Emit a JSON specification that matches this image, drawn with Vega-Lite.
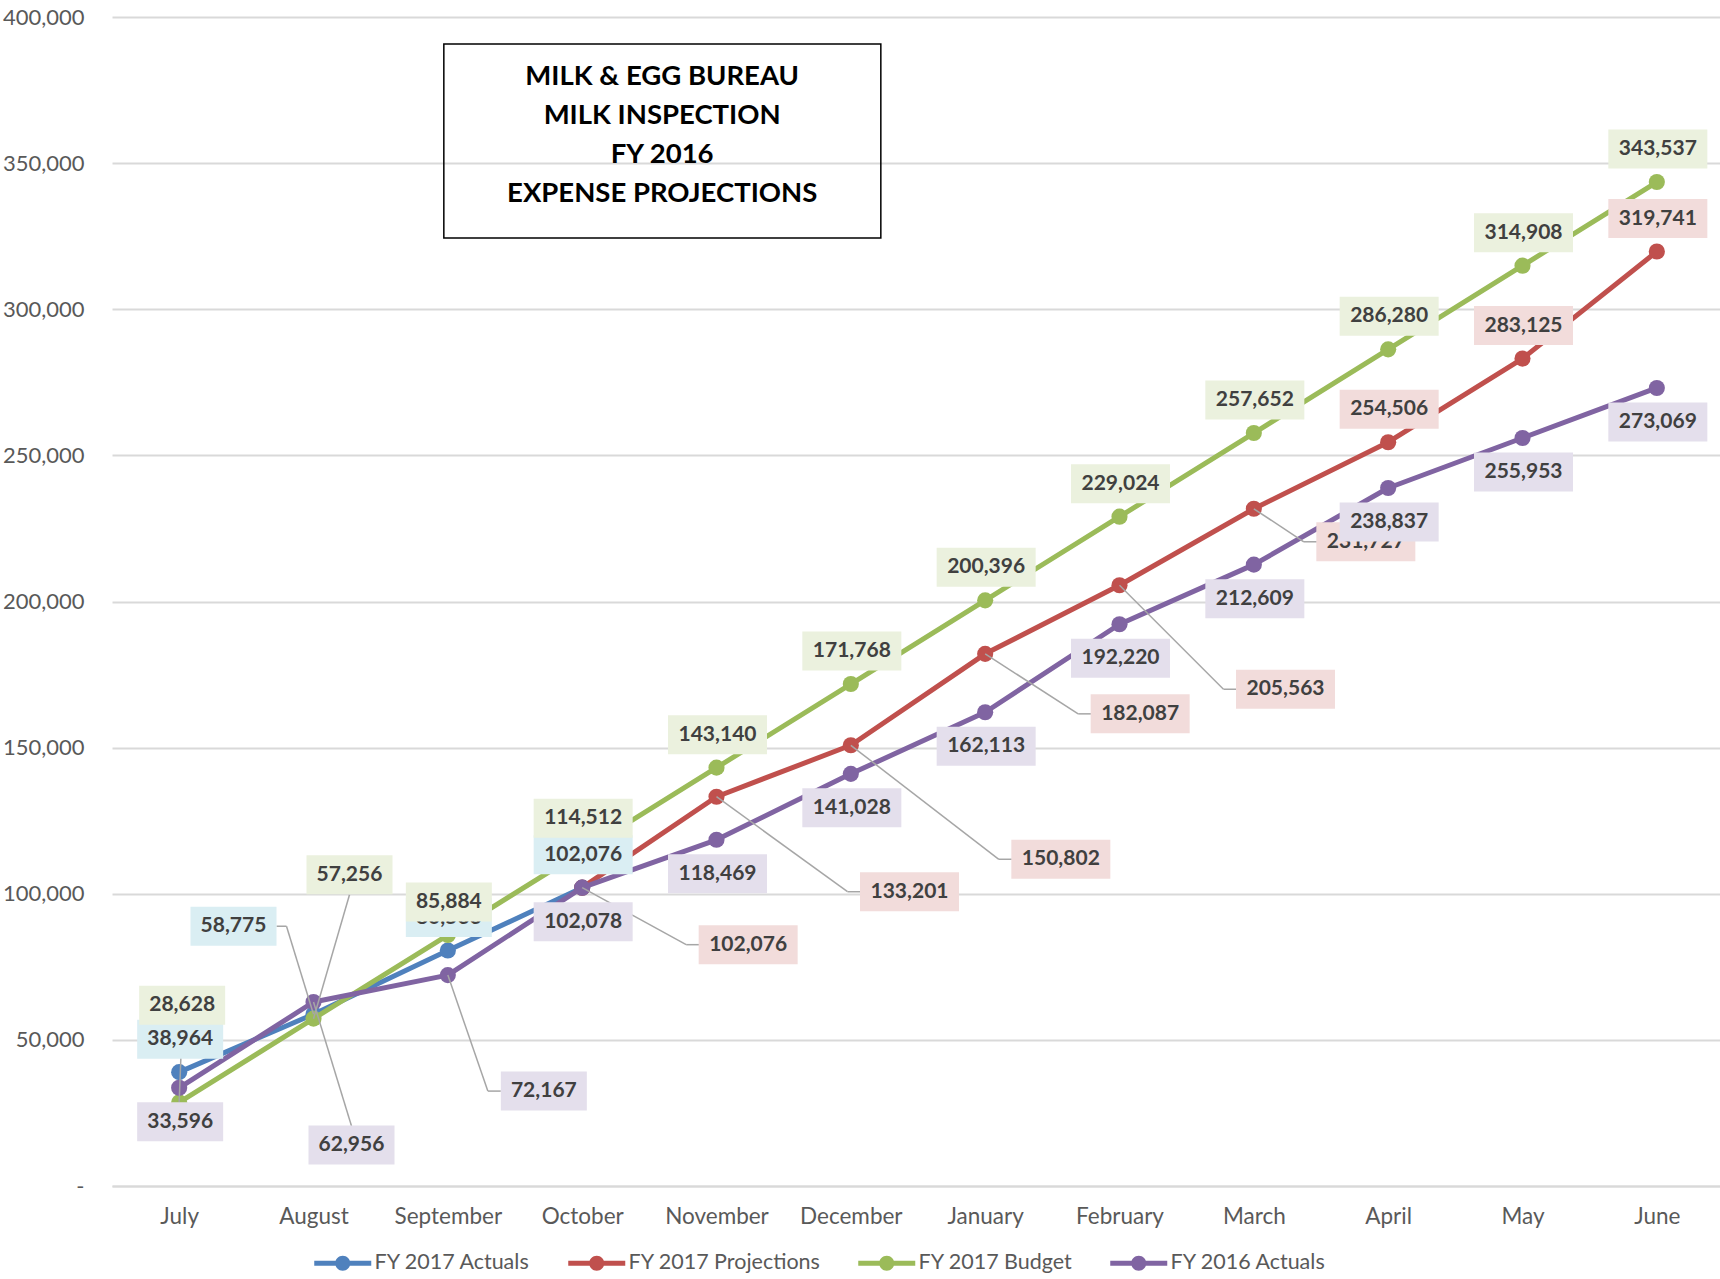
{
  "$schema": "https://vega.github.io/schema/vega-lite/v6.json",
  "width": 1612,
  "height": 1169,
  "autosize": {"type": "none"},
  "padding": {"left": 112, "top": 17, "right": 0, "bottom": 93},
  "background": "white",
  "config": {"font": "Lato", "view": {"stroke": null}},
  "data": {"values": [
    {"s": "FY 2017 Actuals", "m": "July", "v": 38964},
    {"s": "FY 2017 Actuals", "m": "August", "v": 58775},
    {"s": "FY 2017 Actuals", "m": "September", "v": 80566},
    {"s": "FY 2017 Actuals", "m": "October", "v": 102076},
    {"s": "FY 2017 Projections", "m": "October", "v": 102076},
    {"s": "FY 2017 Projections", "m": "November", "v": 133201},
    {"s": "FY 2017 Projections", "m": "December", "v": 150802},
    {"s": "FY 2017 Projections", "m": "January", "v": 182087},
    {"s": "FY 2017 Projections", "m": "February", "v": 205563},
    {"s": "FY 2017 Projections", "m": "March", "v": 231727},
    {"s": "FY 2017 Projections", "m": "April", "v": 254506},
    {"s": "FY 2017 Projections", "m": "May", "v": 283125},
    {"s": "FY 2017 Projections", "m": "June", "v": 319741},
    {"s": "FY 2017 Budget", "m": "July", "v": 28628},
    {"s": "FY 2017 Budget", "m": "August", "v": 57256},
    {"s": "FY 2017 Budget", "m": "September", "v": 85884},
    {"s": "FY 2017 Budget", "m": "October", "v": 114512},
    {"s": "FY 2017 Budget", "m": "November", "v": 143140},
    {"s": "FY 2017 Budget", "m": "December", "v": 171768},
    {"s": "FY 2017 Budget", "m": "January", "v": 200396},
    {"s": "FY 2017 Budget", "m": "February", "v": 229024},
    {"s": "FY 2017 Budget", "m": "March", "v": 257652},
    {"s": "FY 2017 Budget", "m": "April", "v": 286280},
    {"s": "FY 2017 Budget", "m": "May", "v": 314908},
    {"s": "FY 2017 Budget", "m": "June", "v": 343537},
    {"s": "FY 2016 Actuals", "m": "July", "v": 33596},
    {"s": "FY 2016 Actuals", "m": "August", "v": 62956},
    {"s": "FY 2016 Actuals", "m": "September", "v": 72167},
    {"s": "FY 2016 Actuals", "m": "October", "v": 102078},
    {"s": "FY 2016 Actuals", "m": "November", "v": 118469},
    {"s": "FY 2016 Actuals", "m": "December", "v": 141028},
    {"s": "FY 2016 Actuals", "m": "January", "v": 162113},
    {"s": "FY 2016 Actuals", "m": "February", "v": 192220},
    {"s": "FY 2016 Actuals", "m": "March", "v": 212609},
    {"s": "FY 2016 Actuals", "m": "April", "v": 238837},
    {"s": "FY 2016 Actuals", "m": "May", "v": 255953},
    {"s": "FY 2016 Actuals", "m": "June", "v": 273069}
  ]},
  "encoding": {
    "x": {
      "field": "m", "type": "ordinal",
      "scale": {"type": "point", "padding": 0.5, "domain": ["July","August","September","October","November","December","January","February","March","April","May","June"]},
      "axis": {"title": null, "labelAngle": 0, "labelFont": "Lato", "labelFontSize": 22.5, "labelColor": "#595959", "labelPadding": 19, "ticks": false, "domain": true, "domainColor": "#D9D9D9", "domainWidth": 2, "grid": false}
    },
    "y": {
      "field": "v", "type": "quantitative",
      "scale": {"domain": [0, 400000], "nice": false},
      "axis": {"title": null, "values": [0,50000,100000,150000,200000,250000,300000,350000,400000], "labelExpr": "datum.value == 0 ? '-' : format(datum.value, ',')", "labelFont": "Lato", "labelFontSize": 22, "labelColor": "#595959", "labelPadding": 28, "ticks": false, "domain": false, "grid": true, "gridColor": "#D9D9D9", "gridWidth": 2}
    }
  },
  "layer": [
    {
      "transform": [{"filter": "datum.s == 'FY 2017 Actuals'"}],
      "layer": [
        {"mark": {"type": "line", "strokeWidth": 5, "strokeJoin": "round", "strokeCap": "round", "color": "#4F81BD"},
         "encoding": {"order": {"value": null}}},
        {"mark": {"type": "point", "filled": true, "size": 260, "opacity": 1},
         "encoding": {"color": {"field": "s", "type": "nominal", "scale": {"domain": ["FY 2017 Actuals","FY 2017 Projections","FY 2017 Budget","FY 2016 Actuals"], "range": ["#4F81BD","#C0504D","#9BBB59","#8064A2"]},
           "legend": {"title": null, "orient": "none", "legendX": 220, "legendY": 1235, "direction": "horizontal", "columns": 4, "padding": 0, "symbolType": "M-2.85,-0.25H2.85V0.25H-2.85Z M-0.75,0A0.75,0.75 0 1,1 0.75,0A0.75,0.75 0 1,1 -0.75,0Z", "symbolSize": 400, "symbolStrokeWidth": 0, "symbolOpacity": 1, "labelFont": "Lato", "labelFontSize": 21.5, "labelColor": "#595959", "labelOffset": 21, "labelLimit": 400, "columnPadding": 37}}}}
      ]
    },
    {
      "transform": [{"filter": "datum.s == 'FY 2017 Projections'"}],
      "layer": [
        {"mark": {"type": "line", "strokeWidth": 5, "strokeJoin": "round", "strokeCap": "round", "color": "#C0504D"},
         "encoding": {"order": {"value": null}}},
        {"mark": {"type": "point", "filled": true, "size": 260, "opacity": 1},
         "encoding": {"color": {"field": "s", "type": "nominal"}}}
      ]
    },
    {
      "transform": [{"filter": "datum.s == 'FY 2017 Budget'"}],
      "layer": [
        {"mark": {"type": "line", "strokeWidth": 5, "strokeJoin": "round", "strokeCap": "round", "color": "#9BBB59"},
         "encoding": {"order": {"value": null}}},
        {"mark": {"type": "point", "filled": true, "size": 260, "opacity": 1},
         "encoding": {"color": {"field": "s", "type": "nominal"}}}
      ]
    },
    {
      "transform": [{"filter": "datum.s == 'FY 2016 Actuals'"}],
      "layer": [
        {"mark": {"type": "line", "strokeWidth": 5, "strokeJoin": "round", "strokeCap": "round", "color": "#8064A2"},
         "encoding": {"order": {"value": null}}},
        {"mark": {"type": "point", "filled": true, "size": 260, "opacity": 1},
         "encoding": {"color": {"field": "s", "type": "nominal"}}}
      ]
    },
    {
      "transform": [{"filter": "indexof(['FY 2017 BudgetJuly','FY 2017 BudgetAugust','FY 2017 ActualsAugust','FY 2016 ActualsAugust','FY 2016 ActualsSeptember','FY 2017 ProjectionsOctober','FY 2017 ProjectionsNovember','FY 2017 ProjectionsDecember','FY 2017 ProjectionsJanuary','FY 2017 ProjectionsFebruary','FY 2017 ProjectionsMarch'], datum.s + datum.m) >= 0"}],
      "mark": {"type": "rule", "color": "#A6A6A6", "strokeWidth": 1.5,
        "x2Offset": {"expr": "({'FY 2017 BudgetJuly':3,'FY 2017 BudgetAugust':36,'FY 2017 ActualsAugust':-27,'FY 2016 ActualsAugust':38,'FY 2016 ActualsSeptember':40,'FY 2017 ProjectionsOctober':104,'FY 2017 ProjectionsNovember':131,'FY 2017 ProjectionsDecember':148,'FY 2017 ProjectionsJanuary':93,'FY 2017 ProjectionsFebruary':104,'FY 2017 ProjectionsMarch':50})[datum.s + datum.m]"},
        "y2Offset": {"expr": "({'FY 2017 BudgetJuly':-78,'FY 2017 BudgetAugust':-124,'FY 2017 ActualsAugust':-88,'FY 2016 ActualsAugust':124,'FY 2016 ActualsSeptember':116,'FY 2017 ProjectionsOctober':57,'FY 2017 ProjectionsNovember':95,'FY 2017 ProjectionsDecember':114,'FY 2017 ProjectionsJanuary':60,'FY 2017 ProjectionsFebruary':104,'FY 2017 ProjectionsMarch':33})[datum.s + datum.m]"}},
      "encoding": {"x2": {"field": "m"}, "y2": {"field": "v"}}
    },
    {
      "transform": [{"filter": "indexof(['FY 2017 ActualsAugust','FY 2016 ActualsSeptember','FY 2017 ProjectionsOctober','FY 2017 ProjectionsNovember','FY 2017 ProjectionsDecember','FY 2017 ProjectionsJanuary','FY 2017 ProjectionsFebruary','FY 2017 ProjectionsMarch'], datum.s + datum.m) >= 0"}],
      "mark": {"type": "rule", "color": "#A6A6A6", "strokeWidth": 1.5,
        "xOffset": {"expr": "({'FY 2017 ActualsAugust':-27,'FY 2016 ActualsSeptember':40,'FY 2017 ProjectionsOctober':104,'FY 2017 ProjectionsNovember':131,'FY 2017 ProjectionsDecember':148,'FY 2017 ProjectionsJanuary':93,'FY 2017 ProjectionsFebruary':104,'FY 2017 ProjectionsMarch':50})[datum.s + datum.m]"},
        "x2Offset": {"expr": "({'FY 2017 ActualsAugust':-37,'FY 2016 ActualsSeptember':53,'FY 2017 ProjectionsOctober':117,'FY 2017 ProjectionsNovember':144,'FY 2017 ProjectionsDecember':161,'FY 2017 ProjectionsJanuary':106,'FY 2017 ProjectionsFebruary':117,'FY 2017 ProjectionsMarch':63})[datum.s + datum.m]"},
        "yOffset": {"expr": "({'FY 2017 ActualsAugust':-88,'FY 2016 ActualsSeptember':116,'FY 2017 ProjectionsOctober':57,'FY 2017 ProjectionsNovember':95,'FY 2017 ProjectionsDecember':114,'FY 2017 ProjectionsJanuary':60,'FY 2017 ProjectionsFebruary':104,'FY 2017 ProjectionsMarch':33})[datum.s + datum.m]"},
        "y2Offset": {"expr": "({'FY 2017 ActualsAugust':-88,'FY 2016 ActualsSeptember':116,'FY 2017 ProjectionsOctober':57,'FY 2017 ProjectionsNovember':95,'FY 2017 ProjectionsDecember':114,'FY 2017 ProjectionsJanuary':60,'FY 2017 ProjectionsFebruary':104,'FY 2017 ProjectionsMarch':33})[datum.s + datum.m]"}},
      "encoding": {"x2": {"field": "m"}, "y2": {"field": "v"}}
    },
    {
      "transform": [{"filter": "datum.s == 'FY 2017 Actuals'"}],
      "layer": [
        {"mark": {"type": "point", "filled": true, "opacity": 1, "size": 400, "color": "#DAEEF3", "strokeWidth": 0,
          "xOffset": {"expr": "({'FY 2017 BudgetJuly':3,'FY 2017 BudgetAugust':36,'FY 2017 ActualsAugust':-80,'FY 2016 ActualsAugust':38,'FY 2016 ActualsSeptember':96,'FY 2017 ProjectionsOctober':166,'FY 2017 ProjectionsNovember':193,'FY 2017 ProjectionsDecember':210,'FY 2017 ProjectionsJanuary':155,'FY 2017 ProjectionsFebruary':166,'FY 2017 ProjectionsMarch':112})[datum.s + datum.m] || 1"},
          "yOffset": {"expr": "({'FY 2017 BudgetJuly':-97,'FY 2017 BudgetAugust':-144,'FY 2017 ActualsAugust':-88,'FY 2016 ActualsAugust':143,'FY 2016 ActualsSeptember':116,'FY 2017 ProjectionsOctober':57,'FY 2017 ProjectionsNovember':95,'FY 2017 ProjectionsDecember':114,'FY 2017 ProjectionsJanuary':60,'FY 2017 ProjectionsFebruary':104,'FY 2017 ProjectionsMarch':33})[datum.s + datum.m] || (datum.s == 'FY 2016 Actuals' ? 34 : -33)"}},
         "encoding": {"shape": {"condition": {"test": "datum.v >= 100000", "value": "M-4.95,-1.95H4.95V1.95H-4.95Z"}, "value": "M-4.3,-1.95H4.3V1.95H-4.3Z"}}},
        {"mark": {"type": "text", "font": "Lato", "fontWeight": "bold", "fontSize": 21, "color": "#404040", "align": "center", "baseline": "middle",
          "xOffset": {"expr": "({'FY 2017 BudgetJuly':3,'FY 2017 BudgetAugust':36,'FY 2017 ActualsAugust':-80,'FY 2016 ActualsAugust':38,'FY 2016 ActualsSeptember':96,'FY 2017 ProjectionsOctober':166,'FY 2017 ProjectionsNovember':193,'FY 2017 ProjectionsDecember':210,'FY 2017 ProjectionsJanuary':155,'FY 2017 ProjectionsFebruary':166,'FY 2017 ProjectionsMarch':112})[datum.s + datum.m] || 1"},
          "yOffset": {"expr": "({'FY 2017 BudgetJuly':-97,'FY 2017 BudgetAugust':-144,'FY 2017 ActualsAugust':-88,'FY 2016 ActualsAugust':143,'FY 2016 ActualsSeptember':116,'FY 2017 ProjectionsOctober':57,'FY 2017 ProjectionsNovember':95,'FY 2017 ProjectionsDecember':114,'FY 2017 ProjectionsJanuary':60,'FY 2017 ProjectionsFebruary':104,'FY 2017 ProjectionsMarch':33})[datum.s + datum.m] || (datum.s == 'FY 2016 Actuals' ? 34 : -33)"}},
         "encoding": {"text": {"field": "v", "type": "quantitative", "format": ","}}}
      ]
    },
    {
      "transform": [{"filter": "datum.s == 'FY 2017 Projections'"}],
      "layer": [
        {"mark": {"type": "point", "filled": true, "opacity": 1, "size": 400, "color": "#F2DCDB", "strokeWidth": 0,
          "xOffset": {"expr": "({'FY 2017 BudgetJuly':3,'FY 2017 BudgetAugust':36,'FY 2017 ActualsAugust':-80,'FY 2016 ActualsAugust':38,'FY 2016 ActualsSeptember':96,'FY 2017 ProjectionsOctober':166,'FY 2017 ProjectionsNovember':193,'FY 2017 ProjectionsDecember':210,'FY 2017 ProjectionsJanuary':155,'FY 2017 ProjectionsFebruary':166,'FY 2017 ProjectionsMarch':112})[datum.s + datum.m] || 1"},
          "yOffset": {"expr": "({'FY 2017 BudgetJuly':-97,'FY 2017 BudgetAugust':-144,'FY 2017 ActualsAugust':-88,'FY 2016 ActualsAugust':143,'FY 2016 ActualsSeptember':116,'FY 2017 ProjectionsOctober':57,'FY 2017 ProjectionsNovember':95,'FY 2017 ProjectionsDecember':114,'FY 2017 ProjectionsJanuary':60,'FY 2017 ProjectionsFebruary':104,'FY 2017 ProjectionsMarch':33})[datum.s + datum.m] || (datum.s == 'FY 2016 Actuals' ? 34 : -33)"}},
         "encoding": {"shape": {"condition": {"test": "datum.v >= 100000", "value": "M-4.95,-1.95H4.95V1.95H-4.95Z"}, "value": "M-4.3,-1.95H4.3V1.95H-4.3Z"}}},
        {"mark": {"type": "text", "font": "Lato", "fontWeight": "bold", "fontSize": 21, "color": "#404040", "align": "center", "baseline": "middle",
          "xOffset": {"expr": "({'FY 2017 BudgetJuly':3,'FY 2017 BudgetAugust':36,'FY 2017 ActualsAugust':-80,'FY 2016 ActualsAugust':38,'FY 2016 ActualsSeptember':96,'FY 2017 ProjectionsOctober':166,'FY 2017 ProjectionsNovember':193,'FY 2017 ProjectionsDecember':210,'FY 2017 ProjectionsJanuary':155,'FY 2017 ProjectionsFebruary':166,'FY 2017 ProjectionsMarch':112})[datum.s + datum.m] || 1"},
          "yOffset": {"expr": "({'FY 2017 BudgetJuly':-97,'FY 2017 BudgetAugust':-144,'FY 2017 ActualsAugust':-88,'FY 2016 ActualsAugust':143,'FY 2016 ActualsSeptember':116,'FY 2017 ProjectionsOctober':57,'FY 2017 ProjectionsNovember':95,'FY 2017 ProjectionsDecember':114,'FY 2017 ProjectionsJanuary':60,'FY 2017 ProjectionsFebruary':104,'FY 2017 ProjectionsMarch':33})[datum.s + datum.m] || (datum.s == 'FY 2016 Actuals' ? 34 : -33)"}},
         "encoding": {"text": {"field": "v", "type": "quantitative", "format": ","}}}
      ]
    },
    {
      "transform": [{"filter": "datum.s == 'FY 2017 Budget'"}],
      "layer": [
        {"mark": {"type": "point", "filled": true, "opacity": 1, "size": 400, "color": "#EBF1DE", "strokeWidth": 0,
          "xOffset": {"expr": "({'FY 2017 BudgetJuly':3,'FY 2017 BudgetAugust':36,'FY 2017 ActualsAugust':-80,'FY 2016 ActualsAugust':38,'FY 2016 ActualsSeptember':96,'FY 2017 ProjectionsOctober':166,'FY 2017 ProjectionsNovember':193,'FY 2017 ProjectionsDecember':210,'FY 2017 ProjectionsJanuary':155,'FY 2017 ProjectionsFebruary':166,'FY 2017 ProjectionsMarch':112})[datum.s + datum.m] || 1"},
          "yOffset": {"expr": "({'FY 2017 BudgetJuly':-97,'FY 2017 BudgetAugust':-144,'FY 2017 ActualsAugust':-88,'FY 2016 ActualsAugust':143,'FY 2016 ActualsSeptember':116,'FY 2017 ProjectionsOctober':57,'FY 2017 ProjectionsNovember':95,'FY 2017 ProjectionsDecember':114,'FY 2017 ProjectionsJanuary':60,'FY 2017 ProjectionsFebruary':104,'FY 2017 ProjectionsMarch':33})[datum.s + datum.m] || (datum.s == 'FY 2016 Actuals' ? 34 : -33)"}},
         "encoding": {"shape": {"condition": {"test": "datum.v >= 100000", "value": "M-4.95,-1.95H4.95V1.95H-4.95Z"}, "value": "M-4.3,-1.95H4.3V1.95H-4.3Z"}}},
        {"mark": {"type": "text", "font": "Lato", "fontWeight": "bold", "fontSize": 21, "color": "#404040", "align": "center", "baseline": "middle",
          "xOffset": {"expr": "({'FY 2017 BudgetJuly':3,'FY 2017 BudgetAugust':36,'FY 2017 ActualsAugust':-80,'FY 2016 ActualsAugust':38,'FY 2016 ActualsSeptember':96,'FY 2017 ProjectionsOctober':166,'FY 2017 ProjectionsNovember':193,'FY 2017 ProjectionsDecember':210,'FY 2017 ProjectionsJanuary':155,'FY 2017 ProjectionsFebruary':166,'FY 2017 ProjectionsMarch':112})[datum.s + datum.m] || 1"},
          "yOffset": {"expr": "({'FY 2017 BudgetJuly':-97,'FY 2017 BudgetAugust':-144,'FY 2017 ActualsAugust':-88,'FY 2016 ActualsAugust':143,'FY 2016 ActualsSeptember':116,'FY 2017 ProjectionsOctober':57,'FY 2017 ProjectionsNovember':95,'FY 2017 ProjectionsDecember':114,'FY 2017 ProjectionsJanuary':60,'FY 2017 ProjectionsFebruary':104,'FY 2017 ProjectionsMarch':33})[datum.s + datum.m] || (datum.s == 'FY 2016 Actuals' ? 34 : -33)"}},
         "encoding": {"text": {"field": "v", "type": "quantitative", "format": ","}}}
      ]
    },
    {
      "transform": [{"filter": "datum.s == 'FY 2016 Actuals'"}],
      "layer": [
        {"mark": {"type": "point", "filled": true, "opacity": 1, "size": 400, "color": "#E4DFEC", "strokeWidth": 0,
          "xOffset": {"expr": "({'FY 2017 BudgetJuly':3,'FY 2017 BudgetAugust':36,'FY 2017 ActualsAugust':-80,'FY 2016 ActualsAugust':38,'FY 2016 ActualsSeptember':96,'FY 2017 ProjectionsOctober':166,'FY 2017 ProjectionsNovember':193,'FY 2017 ProjectionsDecember':210,'FY 2017 ProjectionsJanuary':155,'FY 2017 ProjectionsFebruary':166,'FY 2017 ProjectionsMarch':112})[datum.s + datum.m] || 1"},
          "yOffset": {"expr": "({'FY 2017 BudgetJuly':-97,'FY 2017 BudgetAugust':-144,'FY 2017 ActualsAugust':-88,'FY 2016 ActualsAugust':143,'FY 2016 ActualsSeptember':116,'FY 2017 ProjectionsOctober':57,'FY 2017 ProjectionsNovember':95,'FY 2017 ProjectionsDecember':114,'FY 2017 ProjectionsJanuary':60,'FY 2017 ProjectionsFebruary':104,'FY 2017 ProjectionsMarch':33})[datum.s + datum.m] || (datum.s == 'FY 2016 Actuals' ? 34 : -33)"}},
         "encoding": {"shape": {"condition": {"test": "datum.v >= 100000", "value": "M-4.95,-1.95H4.95V1.95H-4.95Z"}, "value": "M-4.3,-1.95H4.3V1.95H-4.3Z"}}},
        {"mark": {"type": "text", "font": "Lato", "fontWeight": "bold", "fontSize": 21, "color": "#404040", "align": "center", "baseline": "middle",
          "xOffset": {"expr": "({'FY 2017 BudgetJuly':3,'FY 2017 BudgetAugust':36,'FY 2017 ActualsAugust':-80,'FY 2016 ActualsAugust':38,'FY 2016 ActualsSeptember':96,'FY 2017 ProjectionsOctober':166,'FY 2017 ProjectionsNovember':193,'FY 2017 ProjectionsDecember':210,'FY 2017 ProjectionsJanuary':155,'FY 2017 ProjectionsFebruary':166,'FY 2017 ProjectionsMarch':112})[datum.s + datum.m] || 1"},
          "yOffset": {"expr": "({'FY 2017 BudgetJuly':-97,'FY 2017 BudgetAugust':-144,'FY 2017 ActualsAugust':-88,'FY 2016 ActualsAugust':143,'FY 2016 ActualsSeptember':116,'FY 2017 ProjectionsOctober':57,'FY 2017 ProjectionsNovember':95,'FY 2017 ProjectionsDecember':114,'FY 2017 ProjectionsJanuary':60,'FY 2017 ProjectionsFebruary':104,'FY 2017 ProjectionsMarch':33})[datum.s + datum.m] || (datum.s == 'FY 2016 Actuals' ? 34 : -33)"}},
         "encoding": {"text": {"field": "v", "type": "quantitative", "format": ","}}}
      ]
    },
    {
      "transform": [{"filter": "datum.s == 'FY 2017 Budget' && datum.m == 'July'"}],
      "mark": {"type": "rect", "filled": false, "fill": null, "stroke": "black", "strokeWidth": 1.5, "xOffset": -4, "x2Offset": 30},
      "encoding": {"x": {"datum": "September", "type": "ordinal"}, "x2": {"datum": "December"}, "y": {"datum": 390800, "type": "quantitative"}, "y2": {"datum": 324400}}
    },
    {
      "transform": [{"filter": "datum.s == 'FY 2017 Budget' && datum.m == 'July'"}],
      "mark": {"type": "text", "font": "Lato", "fontWeight": "bold", "fontSize": 27.5, "color": "black", "lineHeight": 39, "align": "center", "baseline": "middle", "xOffset": 80},
      "encoding": {"x": {"datum": "October", "type": "ordinal"}, "y": {"datum": 379600, "type": "quantitative"}, "text": {"value": ["MILK & EGG BUREAU", "MILK INSPECTION", "FY 2016", "EXPENSE PROJECTIONS"]}}
    }
  ]
}
